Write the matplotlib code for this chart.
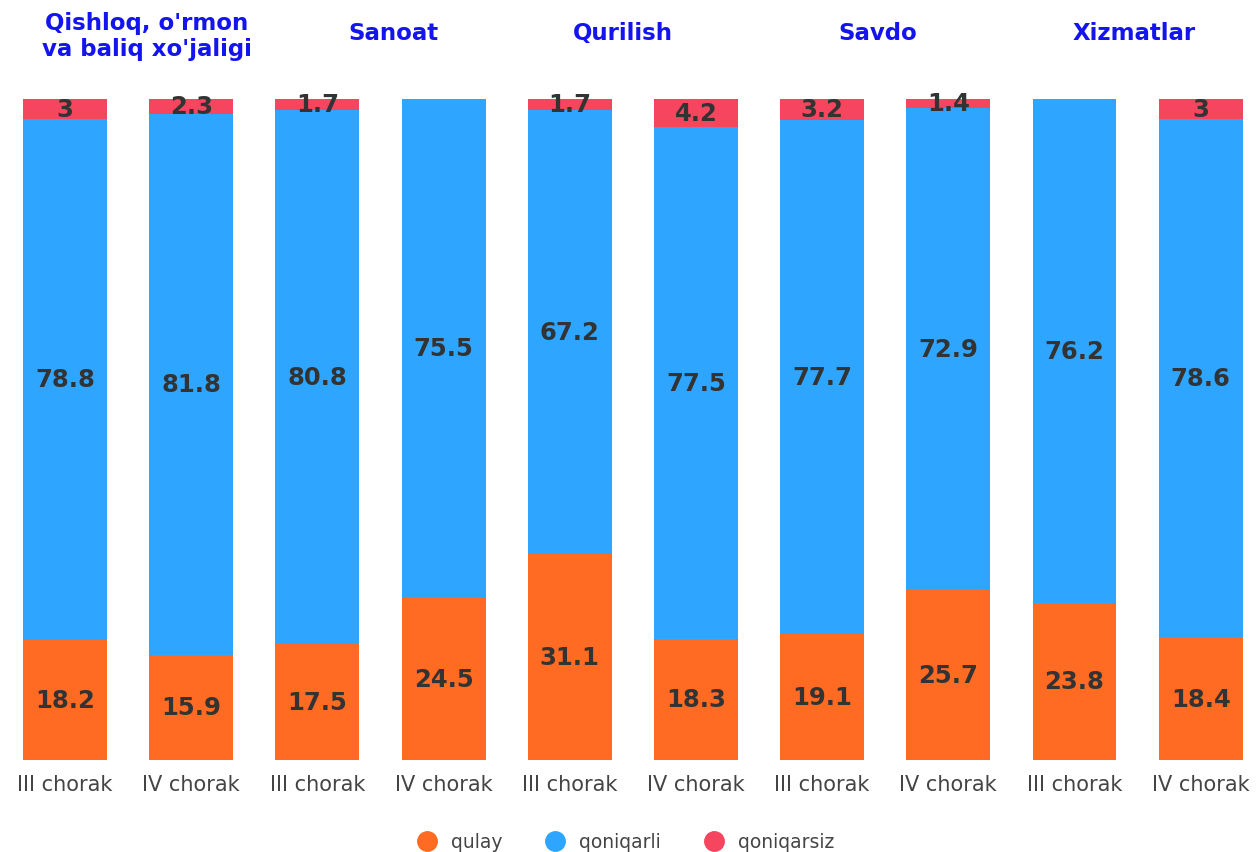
import matplotlib
matplotlib.use("Agg")
import matplotlib.pyplot as plt
import numpy as np
from matplotlib.lines import Line2D

periods = ["III chorak", "IV chorak", "III chorak", "IV chorak", "III chorak",
           "IV chorak", "III chorak", "IV chorak", "III chorak", "IV chorak"]
sectors = ["Qishloq, o'rmon\nva baliq xo'jaligi", "Sanoat", "Qurilish", "Savdo", "Xizmatlar"]
qulay = [18.2, 15.9, 17.5, 24.5, 31.1, 18.3, 19.1, 25.7, 23.8, 18.4]
qoniqarli = [78.8, 81.8, 80.8, 75.5, 67.2, 77.5, 77.7, 72.9, 76.2, 78.6]
qoniqarsiz = [3, 2.3, 1.7, 0, 1.7, 4.2, 3.2, 1.4, 0, 3]
series_names = ["qulay", "qoniqarli", "qoniqarsiz"]
colors = ["#ff6b22", "#2ea6ff", "#f5455f"]

fig = plt.figure(figsize=(12.6, 8.53), dpi=100)
ax = fig.add_axes([0.0015, 0.108, 0.9985, 0.775])
x = np.arange(len(periods))
width = 0.665
bottom = np.zeros(len(x))
for vals, col in zip([qulay, qoniqarli, qoniqarsiz], colors):
    vals = np.array(vals, dtype=float)
    ax.bar(x, vals, width, bottom=bottom, color=col, linewidth=0)
    for xi, v, b in zip(x, vals, bottom):
        if v > 0:
            ax.text(xi, b + v / 2, f"{v:g}", ha="center", va="center",
                    fontsize=17.5, fontweight="bold", color="#333333",
                    family="DejaVu Sans")
    bottom += vals

ax.set_xlim(-0.5, 9.47)
ax.set_ylim(0, 100)
ax.set_xticks(x)
ax.set_xticklabels(periods, fontsize=15, color="#444444", family="DejaVu Sans")
ax.tick_params(axis="x", length=0, pad=10)
ax.set_yticks([])
for s in ax.spines.values():
    s.set_visible(False)

# sector titles (placed over each pair of bars)
title_pos = [0.65, 2.6, 4.42, 6.44, 8.47]
for xc, name in zip(title_pos, sectors):
    yv = 1.0 + (39 / 661 if "\n" in name else 55 / 661)
    ax.text(xc, yv, name, transform=ax.get_xaxis_transform(),
            ha="center", va="bottom", fontsize=16.5, fontweight="bold",
            color="#1414f0", family="DejaVu Sans", linespacing=1.15)

handles = [Line2D([0], [0], marker="o", linestyle="", markersize=14,
                  markerfacecolor=c, markeredgecolor=c) for c in colors]
fig.legend(handles, series_names, loc="center", bbox_to_anchor=(0.493, 1 - 843 / 853),
           ncol=3, frameon=False, fontsize=13.5, handletextpad=0.3,
           columnspacing=1.8, labelcolor="#444444")

fig.savefig("out.png", dpi=100)
